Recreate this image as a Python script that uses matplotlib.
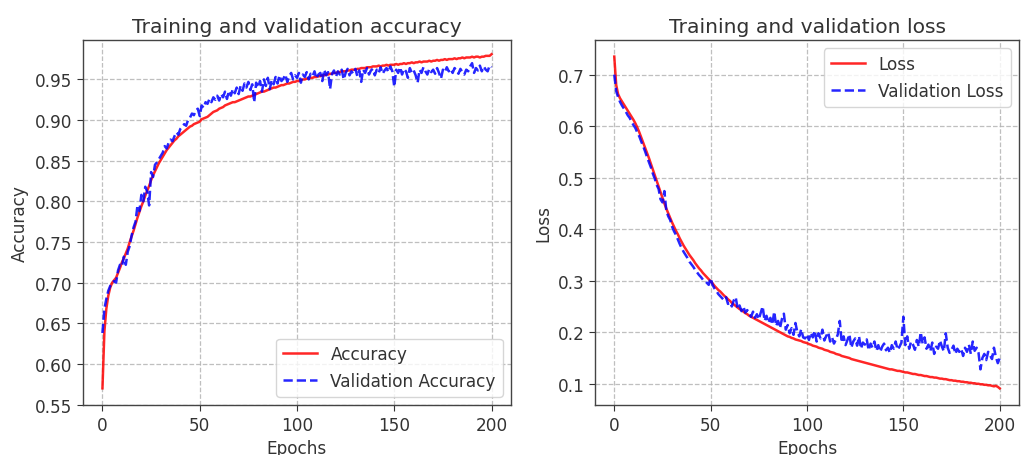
import numpy as np
import matplotlib
matplotlib.use("Agg")
import matplotlib.pyplot as plt
from matplotlib.ticker import MultipleLocator, FormatStrFormatter

# Training history, one value per epoch (0..200)
acc = [
    0.570, 0.640, 0.668, 0.684, 0.694, 0.700, 0.703, 0.706, 0.712, 0.718,
    0.725, 0.730, 0.736, 0.742, 0.750, 0.757, 0.764, 0.772, 0.780, 0.787,
    0.794, 0.800, 0.807, 0.813, 0.819, 0.826, 0.832, 0.837, 0.842, 0.847,
    0.851, 0.855, 0.859, 0.863, 0.866, 0.869, 0.872, 0.875, 0.877, 0.880,
    0.882, 0.884, 0.886, 0.888, 0.890, 0.892, 0.893, 0.895, 0.896, 0.897,
    0.898, 0.901, 0.902, 0.903, 0.904, 0.906, 0.908, 0.910, 0.911, 0.912,
    0.914, 0.915, 0.916, 0.918, 0.919, 0.920, 0.921, 0.922, 0.922, 0.923,
    0.924, 0.925, 0.926, 0.927, 0.928, 0.929, 0.929, 0.930, 0.931, 0.932,
    0.933, 0.934, 0.935, 0.935, 0.936, 0.937, 0.938, 0.939, 0.940, 0.940,
    0.941, 0.942, 0.943, 0.943, 0.944, 0.945, 0.945, 0.946, 0.947, 0.947,
    0.948, 0.948, 0.949, 0.950, 0.950, 0.951, 0.951, 0.952, 0.952, 0.953,
    0.953, 0.954, 0.954, 0.955, 0.955, 0.956, 0.956, 0.957, 0.957, 0.958,
    0.958, 0.959, 0.959, 0.960, 0.960, 0.960, 0.961, 0.961, 0.962, 0.962,
    0.962, 0.963, 0.963, 0.964, 0.964, 0.964, 0.965, 0.965, 0.965, 0.966,
    0.966, 0.966, 0.967, 0.966, 0.967, 0.967, 0.968, 0.967, 0.968, 0.968,
    0.968, 0.969, 0.968, 0.969, 0.969, 0.970, 0.969, 0.970, 0.970, 0.971,
    0.970, 0.971, 0.971, 0.972, 0.971, 0.972, 0.972, 0.972, 0.973, 0.972,
    0.973, 0.973, 0.974, 0.973, 0.974, 0.974, 0.975, 0.974, 0.975, 0.975,
    0.975, 0.976, 0.975, 0.976, 0.976, 0.977, 0.976, 0.977, 0.977, 0.977,
    0.978, 0.977, 0.978, 0.978, 0.977, 0.978, 0.978, 0.979, 0.979, 0.979,
    0.981,
]

val_acc = [
    0.638, 0.668, 0.680, 0.690, 0.696, 0.699, 0.702, 0.700, 0.715, 0.722,
    0.720, 0.732, 0.722, 0.738, 0.745, 0.758, 0.768, 0.775, 0.795, 0.788,
    0.808, 0.800, 0.818, 0.812, 0.795, 0.836, 0.830, 0.845, 0.848, 0.852,
    0.856, 0.860, 0.868, 0.865, 0.872, 0.876, 0.874, 0.880, 0.885, 0.882,
    0.889, 0.892, 0.895, 0.893, 0.900, 0.903, 0.908, 0.906, 0.912, 0.914,
    0.905, 0.918, 0.915, 0.922, 0.920, 0.926, 0.922, 0.928, 0.925, 0.930,
    0.924, 0.932, 0.928, 0.935, 0.926, 0.936, 0.930, 0.938, 0.933, 0.940,
    0.932, 0.942, 0.936, 0.945, 0.940, 0.947, 0.937, 0.944, 0.922, 0.946,
    0.940, 0.948, 0.935, 0.950, 0.942, 0.952, 0.938, 0.949, 0.944, 0.953,
    0.945, 0.955, 0.948, 0.951, 0.956, 0.947, 0.954, 0.958, 0.950, 0.955,
    0.952, 0.958, 0.946, 0.956, 0.953, 0.959, 0.950, 0.957, 0.954, 0.960,
    0.951, 0.956, 0.958, 0.948, 0.962, 0.955, 0.959, 0.938, 0.957, 0.961,
    0.953, 0.960, 0.956, 0.962, 0.950, 0.958, 0.963, 0.955, 0.960, 0.957,
    0.963, 0.954, 0.961, 0.947, 0.962, 0.958, 0.964, 0.956, 0.961, 0.963,
    0.955, 0.962, 0.958, 0.965, 0.957, 0.961, 0.964, 0.959, 0.966, 0.960,
    0.941, 0.962, 0.958, 0.965, 0.956, 0.963, 0.960, 0.952, 0.964, 0.958,
    0.961, 0.955, 0.946, 0.962, 0.958, 0.965, 0.960, 0.956, 0.963, 0.959,
    0.962, 0.957, 0.964, 0.958, 0.951, 0.962, 0.959, 0.965, 0.960, 0.963,
    0.958, 0.964, 0.961, 0.957, 0.963, 0.959, 0.956, 0.962, 0.960, 0.966,
    0.970, 0.958, 0.964, 0.961, 0.967, 0.960, 0.966, 0.962, 0.960, 0.967,
    0.965,
]

loss = [
    0.735, 0.680, 0.662, 0.654, 0.648, 0.642, 0.636, 0.630, 0.624, 0.618,
    0.612, 0.605, 0.597, 0.588, 0.578, 0.568, 0.558, 0.548, 0.538, 0.527,
    0.516, 0.505, 0.494, 0.483, 0.472, 0.461, 0.450, 0.440, 0.431, 0.422,
    0.413, 0.405, 0.397, 0.390, 0.382, 0.375, 0.368, 0.362, 0.356, 0.350,
    0.345, 0.340, 0.334, 0.329, 0.324, 0.320, 0.315, 0.311, 0.307, 0.303,
    0.299, 0.295, 0.290, 0.286, 0.282, 0.279, 0.275, 0.271, 0.268, 0.264,
    0.261, 0.257, 0.254, 0.251, 0.248, 0.245, 0.243, 0.240, 0.237, 0.235,
    0.232, 0.230, 0.228, 0.226, 0.224, 0.222, 0.220, 0.218, 0.216, 0.214,
    0.212, 0.210, 0.208, 0.206, 0.204, 0.202, 0.200, 0.198, 0.196, 0.194,
    0.192, 0.191, 0.189, 0.188, 0.186, 0.185, 0.184, 0.183, 0.181, 0.180,
    0.179, 0.177, 0.176, 0.174, 0.173, 0.172, 0.170, 0.169, 0.168, 0.166,
    0.165, 0.164, 0.162, 0.161, 0.160, 0.158, 0.157, 0.156, 0.154, 0.153,
    0.152, 0.151, 0.150, 0.148, 0.147, 0.146, 0.145, 0.144, 0.143, 0.142,
    0.141, 0.140, 0.139, 0.138, 0.137, 0.136, 0.135, 0.134, 0.133, 0.132,
    0.131, 0.130, 0.129, 0.128, 0.128, 0.127, 0.126, 0.125, 0.125, 0.124,
    0.123, 0.122, 0.122, 0.121, 0.120, 0.119, 0.119, 0.118, 0.117, 0.117,
    0.116, 0.115, 0.115, 0.114, 0.113, 0.113, 0.112, 0.112, 0.111, 0.110,
    0.110, 0.109, 0.109, 0.108, 0.107, 0.107, 0.106, 0.106, 0.105, 0.105,
    0.104, 0.104, 0.103, 0.103, 0.102, 0.102, 0.101, 0.101, 0.100, 0.100,
    0.099, 0.099, 0.098, 0.098, 0.097, 0.097, 0.096, 0.095, 0.096, 0.094,
    0.091,
]

val_loss = [
    0.700, 0.668, 0.656, 0.647, 0.640, 0.634, 0.628, 0.621, 0.616, 0.608,
    0.602, 0.596, 0.587, 0.580, 0.570, 0.561, 0.551, 0.540, 0.530, 0.520,
    0.508, 0.498, 0.486, 0.478, 0.458, 0.452, 0.474, 0.436, 0.425, 0.418,
    0.405, 0.396, 0.389, 0.380, 0.371, 0.363, 0.356, 0.350, 0.344, 0.337,
    0.332, 0.327, 0.321, 0.316, 0.311, 0.307, 0.302, 0.300, 0.296, 0.292,
    0.305, 0.292, 0.285, 0.280, 0.274, 0.270, 0.266, 0.262, 0.268, 0.255,
    0.258, 0.250, 0.262, 0.268, 0.246, 0.252, 0.241, 0.250, 0.238, 0.243,
    0.236, 0.230, 0.240, 0.228, 0.235, 0.225, 0.238, 0.250, 0.222, 0.232,
    0.218, 0.228, 0.215, 0.240, 0.212, 0.222, 0.208, 0.226, 0.236, 0.205,
    0.214, 0.198, 0.208, 0.195, 0.218, 0.200, 0.192, 0.206, 0.190, 0.188,
    0.196, 0.185, 0.199, 0.190, 0.203, 0.182, 0.198, 0.188, 0.205, 0.184,
    0.193, 0.200, 0.182, 0.190, 0.178, 0.186, 0.196, 0.222, 0.180, 0.192,
    0.175, 0.185, 0.196, 0.170, 0.182, 0.188, 0.174, 0.192, 0.168, 0.180,
    0.176, 0.186, 0.165, 0.178, 0.170, 0.182, 0.164, 0.175, 0.162, 0.172,
    0.178, 0.165, 0.170, 0.160, 0.175, 0.168, 0.182, 0.166, 0.172, 0.180,
    0.230, 0.175, 0.192, 0.168, 0.182, 0.176, 0.166, 0.185, 0.172, 0.200,
    0.178, 0.190, 0.168, 0.176, 0.163, 0.180, 0.158, 0.172, 0.168, 0.184,
    0.172, 0.163, 0.198, 0.170, 0.160, 0.166, 0.174, 0.158, 0.168, 0.162,
    0.168, 0.154, 0.170, 0.162, 0.176, 0.158, 0.182, 0.164, 0.170, 0.160,
    0.128, 0.150, 0.158, 0.146, 0.162, 0.155, 0.148, 0.170, 0.152, 0.140,
    0.150,
]

epochs = np.arange(len(acc))

FS = 12.2
plt.rcParams.update({
    "font.size": FS,
    "axes.titlesize": 14.6,
    "axes.labelsize": FS,
    "xtick.labelsize": FS,
    "ytick.labelsize": FS,
    "legend.fontsize": FS,
    "xtick.major.size": 4.2,
    "ytick.major.size": 4.2,
    "axes.linewidth": 1.0,
    "text.color": "#333333",
    "axes.labelcolor": "#333333",
    "xtick.color": "#333333",
    "ytick.color": "#333333",
})

fig = plt.figure(figsize=(10.21, 4.56), dpi=100)
ax1 = fig.add_axes([83 / 1021, 1 - 406 / 456, 428 / 1021, 365 / 456])
ax2 = fig.add_axes([595 / 1021, 1 - 406 / 456, 424 / 1021, 365 / 456])

LW = 1.8
ax1.plot(epochs, acc, color="red", alpha=0.85, lw=LW, label="Accuracy")
ax1.plot(epochs, val_acc, color="blue", alpha=0.85, lw=LW, ls="--",
         label="Validation Accuracy")
ax1.set_title("Training and validation accuracy")
ax1.set_xlabel("Epochs")
ax1.set_ylabel("Accuracy")
ax1.set_ylim(0.5495, 0.9985)
ax1.yaxis.set_major_locator(MultipleLocator(0.05))
ax1.yaxis.set_major_formatter(FormatStrFormatter("%.2f"))
ax1.legend(loc="lower right")

ax2.plot(epochs, loss, color="red", alpha=0.85, lw=LW, label="Loss")
ax2.plot(epochs, val_loss, color="blue", alpha=0.85, lw=LW, ls="--",
         label="Validation Loss")
ax2.set_title("Training and validation loss")
ax2.set_xlabel("Epochs")
ax2.set_ylabel("Loss")
ax2.legend(loc="upper right")

for ax in (ax1, ax2):
    ax.grid(True, linestyle="--", color="#b0b0b0", linewidth=0.9, alpha=0.8)
    ax.set_xlim(-10, 210)
    ax.set_xticks([0, 50, 100, 150, 200])
    for s in ax.spines.values():
        s.set_color("#444444")

fig.savefig("out.png", dpi=100)
